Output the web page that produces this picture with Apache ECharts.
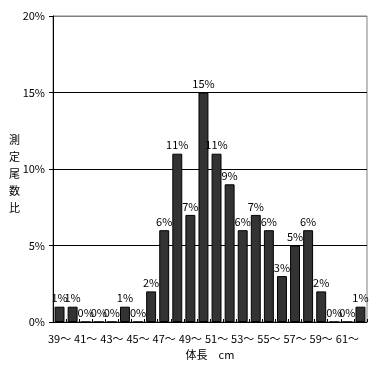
<!DOCTYPE html>
<html>
<head>
<meta charset="utf-8">
<script src="https://cdn.jsdelivr.net/npm/echarts@6/dist/echarts.min.js"></script>
<style>html,body{margin:0;padding:0;background:#fff;}#c{width:382px;height:367px;}</style>
</head>
<body>
<div id="c"></div>
<script>
const categories = ['39～','40～','41～','42～','43～','44～','45～','46～','47～','48～','49～','50～','51～','52～','53～','54～','55～','56～','57～','58～','59～','60～','61～','62～'];
const values = [1,1,0,0,0,1,0,2,6,11,7,15,11,9,6,7,6,3,5,6,2,0,0,1];
const yTicks = [0,5,10,15,20];
const yTitle = '測定尾数比';
const xTitle = '体長　cm';

const FONT = '"Noto Sans CJK JP", sans-serif';
const chart = echarts.init(document.getElementById('c'), null, {renderer:'canvas'});
chart.setOption({
  animation: false,
  backgroundColor: '#fff',
  grid: {left: 53, right: 15, top: 16, bottom: 45, show: true, borderColor: '#808080', borderWidth: 1},
  xAxis: {
    type: 'category',
    data: categories,
    name: xTitle,
    nameLocation: 'middle',
    nameGap: 23,
    nameTextStyle: {fontFamily: FONT, fontSize: 11, color: '#000'},
    axisLine: {lineStyle: {color: '#000', width: 1}},
    axisTick: {show: true, inside: true, length: 3, interval: 0, lineStyle: {color: '#000'}},
    axisLabel: {interval: 1, fontFamily: FONT, fontSize: 11, color: '#000', margin: 11},
    splitLine: {show: false}
  },
  yAxis: {
    type: 'value',
    min: yTicks[0],
    max: yTicks[yTicks.length - 1],
    interval: 5,
    axisLine: {show: true, lineStyle: {color: '#000', width: 1}},
    axisTick: {show: true, length: 4, lineStyle: {color: '#000'}},
    axisLabel: {fontFamily: FONT, fontSize: 11, color: '#000', margin: 8, formatter: v => v + '%'},
    splitLine: {show: true, lineStyle: {color: ['#000','#000','#000','#000','#808080'], width: 1}}
  },
  graphic: [{
    type: 'text',
    left: 9,
    top: 131,
    style: {text: yTitle.split('').join('\n'), font: '11px ' + FONT, fill: '#000', lineHeight: 17}
  }],
  series: [{
    type: 'bar',
    data: values,
    barCategoryGap: '24%',
    itemStyle: {color: '#333333', borderColor: '#000', borderWidth: 1},
    label: {show: true, position: 'top', distance: 3, formatter: '{c}%', fontFamily: FONT, fontSize: 11, color: '#000'}
  }]
});
</script>
</body>
</html>
